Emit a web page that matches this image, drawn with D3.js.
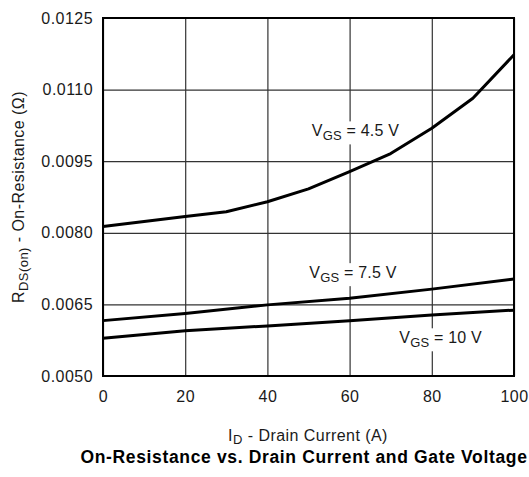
<!DOCTYPE html>
<html>
<head>
<meta charset="utf-8">
<script src="https://cdn.jsdelivr.net/npm/d3@7"></script>
<style>
  body { margin: 0; background: #fff; }
  text { font-family: "Liberation Sans", Arial, sans-serif; fill: #1a1a1a; }
</style>
</head>
<body>
<div id="chart"></div>
<script>
// Drain current (A)
const current = [0, 20, 30, 40, 50, 60, 70, 80, 90, 100];
// On-resistance (ohm) per gate voltage
const rds45 = [0.00813, 0.00834, 0.00844, 0.00865, 0.00892, 0.00928, 0.00966, 0.01019, 0.01082, 0.01173];
const current2 = [0, 20, 40, 60, 80, 100];
const rds75 = [0.00616, 0.00631, 0.00649, 0.00663, 0.00682, 0.00703];
const rds10 = [0.00579, 0.00595, 0.00605, 0.00616, 0.00628, 0.00638];
const xTicks = [0, 20, 40, 60, 80, 100];
const yTicks = [0.0050, 0.0065, 0.0080, 0.0095, 0.0110, 0.0125];

const series = [
    {label: "4.5 V", x: current, y: rds45, lx: 50.8, ly: 0.01002},
    {label: "7.5 V", x: current2, y: rds75, lx: 50.2, ly: 0.00705},
    {label: "10 V", x: current2, y: rds10, lx: 72.1, ly: 0.005685}
];

const margin = {top: 18, right: 15, bottom: 101, left: 103};
const W = 529, H = 477;
const width = W - margin.left - margin.right;
const height = H - margin.top - margin.bottom;
const fs = "16px";
const ls = "0.45px";

const x = d3.scaleLinear().domain([0, 100]).range([0, width]);
const y = d3.scaleLinear().domain([0.0050, 0.0125]).range([height, 0]);

const svg = d3.select("#chart").append("svg")
    .attr("width", W)
    .attr("height", H);

const g = svg.append("g")
    .attr("transform", `translate(${margin.left},${margin.top})`);

// grille
g.append("g")
    .call(d3.axisBottom(x).tickValues(xTicks).tickSize(height).tickFormat(""))
    .call(a => a.select(".domain").remove())
    .selectAll("line").attr("stroke", "#333").attr("stroke-width", 1.2);

g.append("g")
    .call(d3.axisLeft(y).tickValues(yTicks).tickSize(-width).tickFormat(""))
    .call(a => a.select(".domain").remove())
    .selectAll("line").attr("stroke", "#333").attr("stroke-width", 1.2);

// axes labels
const xAxis = g.append("g")
    .attr("transform", `translate(0,${height})`)
    .call(d3.axisBottom(x).tickValues(xTicks).tickSize(0).tickPadding(15));
xAxis.select(".domain").remove();
xAxis.selectAll("text").style("font-size", fs).style("letter-spacing", ls);

const yAxis = g.append("g")
    .call(d3.axisLeft(y).tickValues(yTicks).tickSize(0).tickPadding(10).tickFormat(d3.format(".4f")));
yAxis.select(".domain").remove();
yAxis.selectAll("text").style("font-size", fs).style("letter-spacing", ls);

// courbes
const line = d3.line()
    .x(d => x(d[0]))
    .y(d => y(d[1]));

// étiquettes VGS avec fond blanc
series.forEach(s => {
    const t = g.append("text")
        .attr("x", x(s.lx))
        .attr("y", y(s.ly))
        .style("font-size", fs)
        .style("letter-spacing", "0.2px");
    t.append("tspan").text("V");
    t.append("tspan").attr("dy", 4).style("font-size", "13px").text("GS");
    t.append("tspan").attr("dy", -4).text(" = " + s.label);
    const bb = t.node().getBBox();
    g.insert("rect", () => t.node())
        .attr("x", bb.x - 3)
        .attr("y", bb.y - 1)
        .attr("width", bb.width + 6)
        .attr("height", bb.height + 2)
        .attr("fill", "#fff");
});

series.forEach(s => {
    g.append("path")
        .datum(s.x.map((v, i) => [v, s.y[i]]))
        .attr("fill", "none")
        .attr("stroke", "#000")
        .attr("stroke-width", 3)
        .attr("stroke-linejoin", "round")
        .attr("d", line);
});

// cadre
g.append("rect")
    .attr("width", width)
    .attr("height", height)
    .attr("fill", "none")
    .attr("stroke", "#000")
    .attr("stroke-width", 2);

// titre axe x
const xt = svg.append("text")
    .attr("x", 308)
    .attr("y", 441)
    .attr("text-anchor", "middle")
    .style("font-size", fs)
    .style("letter-spacing", ls);
xt.append("tspan").text("I");
xt.append("tspan").attr("dy", 3).style("font-size", "13px").text("D");
xt.append("tspan").attr("dy", -3).text(" - Drain Current (A)");

// titre axe y
const yt = svg.append("text")
    .attr("transform", `translate(24,${margin.top + height / 2}) rotate(-90)`)
    .attr("text-anchor", "middle")
    .style("font-size", fs)
    .style("letter-spacing", ls);
yt.append("tspan").text("R");
yt.append("tspan").attr("dy", 4).style("font-size", "13px").text("DS(on)");
yt.append("tspan").attr("dy", -4).text(" - On-Resistance (Ω)");

// titre
svg.append("text")
    .attr("x", 304)
    .attr("y", 463)
    .attr("text-anchor", "middle")
    .style("font-size", "17.5px")
    .style("font-weight", "bold")
    .style("letter-spacing", "0.65px")
    .style("fill", "#000")
    .text("On-Resistance vs. Drain Current and Gate Voltage");
</script>
</body>
</html>
